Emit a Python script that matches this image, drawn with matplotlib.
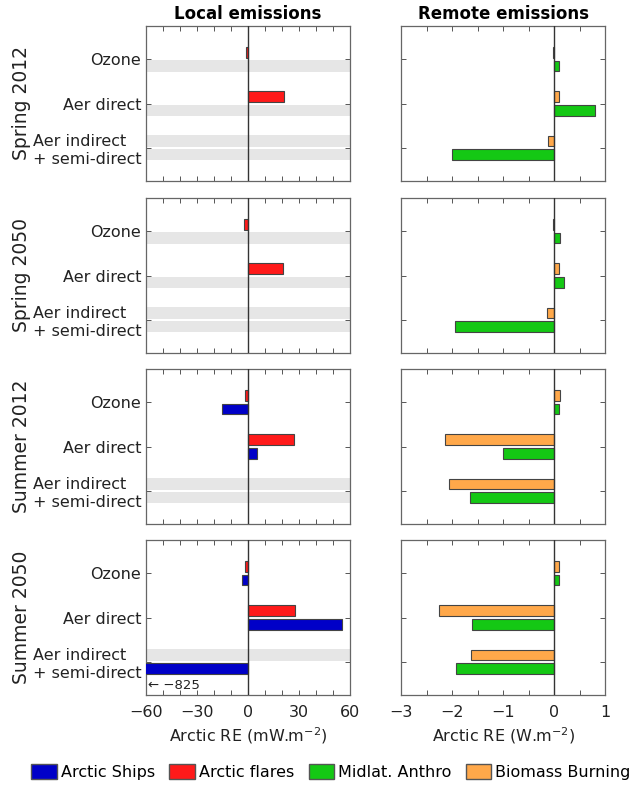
import matplotlib
matplotlib.use('Agg')
import matplotlib.pyplot as plt
from matplotlib.patches import Patch
from matplotlib.ticker import MultipleLocator
import numpy as np

nan = np.nan

categories = ['Ozone', 'Aer direct', 'Aer indirect   \n+ semi-direct']
periods = ['Spring 2012', 'Spring 2050', 'Summer 2012', 'Summer 2050']

# local emissions (mW.m-2), nan = not computed (grey band)
flares = [[-1.4, 21.2, nan],
          [-2.2, 20.6, nan],
          [-1.8, 26.9, nan],
          [-1.8, 27.6, nan]]
ships = [[nan, nan, nan],
         [nan, nan, nan],
         [-15.3, 5.5, nan],
         [-3.7, 55.3, -825.0]]

# remote emissions (W.m-2)
biomass = [[-0.01, 0.10, -0.11],
           [-0.01, 0.09, -0.13],
           [0.11, -2.13, -2.06],
           [0.10, -2.26, -1.63]]
midlat = [[0.09, 0.80, -2.00],
          [0.12, 0.19, -1.94],
          [0.10, -1.00, -1.65],
          [0.10, -1.60, -1.93]]

col_ships = '#0000c8'
col_flares = '#ff1a1a'
col_midlat = '#14c814'
col_bb = '#ffa84a'
col_gap = '#e6e6e6'

W, H = 632, 787
fig = plt.figure(figsize=(W / 100, H / 100), dpi=100)

row_tops = [26, 198, 369, 540]
ax_h = 155
left_x, right_x, ax_w = 146, 401, 204
off = 0.155
bh = 0.235
fs = 10.5


def px_axes(x, top, w, h):
    return fig.add_axes([x / W, 1 - (top + h) / H, w / W, h / H])


def draw_pairs(ax, upper, lower, c_up, c_lo, grey):
    y = np.arange(1, len(categories) + 1)
    for vals, yy, c in [(upper, y - off, c_up), (lower, y + off, c_lo)]:
        vals = np.array(vals, dtype=float)
        ok = ~np.isnan(vals)
        ax.barh(yy[ok], vals[ok], height=bh, color=c, edgecolor='#444444',
                linewidth=0.8, zorder=3)
        if grey:
            for yg in yy[~ok]:
                ax.axhspan(yg - bh / 2 - 0.01, yg + bh / 2 + 0.01,
                           color=col_gap, lw=0, zorder=1)


def style(ax, xlim, major, minor):
    ax.set_xlim(*xlim)
    ax.set_ylim(3.75, 0.25)
    ax.set_yticks([1, 2, 3])
    ax.xaxis.set_major_locator(MultipleLocator(major))
    ax.xaxis.set_minor_locator(MultipleLocator(minor))
    ax.axvline(0, color='#333333', lw=1.0, zorder=4)
    ax.tick_params(which='both', direction='in', top=True, right=True,
                   color='#555555', labelsize=fs + 1, labelcolor='#222222')
    ax.tick_params(which='major', length=3.5, width=0.7)
    ax.tick_params(which='minor', length=3.5, width=0.7)
    ax.tick_params(axis='x', pad=7)
    for s in ax.spines.values():
        s.set_color('#666666')
        s.set_linewidth(0.9)


for i, period in enumerate(periods):
    axl = px_axes(left_x, row_tops[i], ax_w, ax_h)
    axr = px_axes(right_x, row_tops[i], ax_w, ax_h)

    draw_pairs(axl, flares[i], ships[i], col_flares, col_ships, True)
    draw_pairs(axr, biomass[i], midlat[i], col_bb, col_midlat, False)

    style(axl, (-60, 60), 30, 10)
    style(axr, (-3, 1), 1, 0.5)

    axl.set_yticklabels(categories, fontsize=fs + 1, color='#222222')
    axr.set_yticklabels([])
    axl.set_ylabel(period, fontsize=fs + 3, color='#222222', labelpad=1)

    if i == 0:
        axl.set_title('Local emissions', fontsize=fs + 1.5, fontweight='bold', pad=5)
        axr.set_title('Remote emissions', fontsize=fs + 1.5, fontweight='bold', pad=5)
    if i < len(periods) - 1:
        axl.set_xticklabels([])
        axr.set_xticklabels([])
    else:
        axl.set_xlabel('Arctic RE (mW.m$^{-2}$)', fontsize=fs + 1, color='#222222')
        axr.set_xlabel('Arctic RE (W.m$^{-2}$)', fontsize=fs + 1, color='#222222')
        vmin = np.nanmin(ships[i])
        if vmin < -60:
            axl.text(-59, 3.53, '\u2190 \u2212%d' % abs(vmin), fontsize=fs - 1,
                     color='#222222', va='center', ha='left', zorder=5)

handles = [Patch(facecolor=col_ships, edgecolor='#555555', label='Arctic Ships'),
           Patch(facecolor=col_flares, edgecolor='#555555', label='Arctic flares'),
           Patch(facecolor=col_midlat, edgecolor='#555555', label='Midlat. Anthro'),
           Patch(facecolor=col_bb, edgecolor='#555555', label='Biomass Burning')]
fig.legend(handles=handles, loc='center', ncol=4, frameon=False,
           bbox_to_anchor=(331 / W, 1 - 772 / H), fontsize=fs + 1,
           handlelength=1.6, handleheight=1.1, handletextpad=0.25,
           columnspacing=0.9, borderaxespad=0)

fig.savefig('out.png', dpi=100)
